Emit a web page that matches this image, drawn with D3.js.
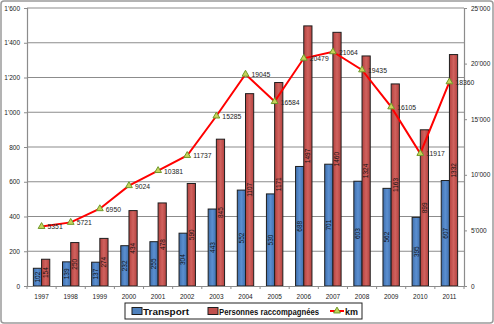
<!DOCTYPE html>
<html><head><meta charset="utf-8">
<script src="https://cdn.jsdelivr.net/npm/d3@7"></script>
<style>body{margin:0;background:#fff}svg{display:block}</style>
</head><body>
<script>
const years = ["1997","1998","1999","2000","2001","2002","2003","2004","2005","2006","2007","2008","2009","2010","2011"];
const transport = [102,139,137,232,255,304,443,552,530,688,701,603,562,395,607];
const personnes = [154,250,274,434,478,590,845,1107,1171,1497,1460,1324,1163,899,1332];
const km = [5351,5721,6950,9024,10381,11737,15285,19045,16584,20479,21064,19435,16105,11917,18360];
const leftTicks = [0,200,400,600,800,1000,1200,1400,1600];
const rightTicks = [0,5000,10000,15000,20000,25000];
const seriesNames = ["Transport","Personnes raccompagnées","km"];

const W=494,H=324;
const m={l:27,r:30,t:8,b:38};
const svg=d3.select("body").append("svg").attr("width",W).attr("height",H);
const defs=svg.append("defs");
function grad(id,c1,c2){const g=defs.append("linearGradient").attr("id",id).attr("x1",0).attr("x2",1).attr("y1",0).attr("y2",0);
 g.append("stop").attr("offset","0%").attr("stop-color",c1);g.append("stop").attr("offset","50%").attr("stop-color",c2);g.append("stop").attr("offset","100%").attr("stop-color",c1);}
grad("gb","#3f6fae","#5b8fd0");grad("gr","#b4423f","#d0625e");

svg.append("rect").attr("x",1).attr("y",1).attr("width",W-2).attr("height",H-2).attr("rx",3)
 .attr("fill","#fff").attr("stroke","#9a9a9a").attr("stroke-width",1.5);

const x0=m.l,x1=W-m.r,y0=H-m.b,y1=m.t;
const x=d3.scaleBand().domain(years).range([x0,x1]);
const xi=d3.scaleBand().domain(["t","p"]).range([x.bandwidth()/2-8.2,x.bandwidth()/2+8.2]);
const yL=d3.scaleLinear().domain([0,1600]).range([y0,y1]);
const yR=d3.scaleLinear().domain([0,25000]).range([y0,y1]);
const fmt=v=>d3.format(",")(v).replace(/,/g,"'");

// gridlines
svg.append("g").selectAll("line").data(leftTicks.slice(1)).join("line")
 .attr("x1",x0).attr("x2",x1).attr("y1",d=>yL(d)).attr("y2",d=>yL(d))
 .attr("stroke","#8c8c8c").attr("stroke-width",1.2);

// left axis
const gl=svg.append("g").attr("transform",`translate(${x0},0)`)
 .call(d3.axisLeft(yL).tickValues(leftTicks).tickSize(3).tickPadding(4).tickFormat(fmt));
gl.select(".domain").attr("stroke","#8c8c8c").attr("stroke-width",1.2);
gl.selectAll(".tick line").attr("stroke","#8c8c8c");
gl.selectAll("text").attr("font-family","Liberation Sans, Arial").attr("font-size",6.5).attr("fill","#222");

// right axis
const gr=svg.append("g").attr("transform",`translate(${x1},0)`)
 .call(d3.axisRight(yR).tickValues(rightTicks).tickSize(3).tickPadding(4).tickFormat(fmt));
gr.select(".domain").attr("stroke","#8c8c8c").attr("stroke-width",1.2);
gr.selectAll(".tick line").attr("stroke","#8c8c8c");
gr.selectAll("text").attr("font-family","Liberation Sans, Arial").attr("font-size",6.5).attr("fill","#222");

// bars
const rows=years.map((y,i)=>({y,t:transport[i],p:personnes[i],k:km[i]}));
const bars=[];
rows.forEach(r=>{bars.push({y:r.y,s:"t",v:r.t});bars.push({y:r.y,s:"p",v:r.p});});
const bg=svg.append("g");
bg.selectAll("rect").data(bars).join("rect")
 .attr("x",d=>x(d.y)+xi(d.s)).attr("width",xi.bandwidth())
 .attr("y",d=>yL(d.v)).attr("height",d=>yL(0)-yL(d.v))
 .attr("fill",d=>d.s==="t"?"url(#gb)":"url(#gr)")
 .attr("stroke","#1e1e1e").attr("stroke-width",1);
bg.selectAll("text").data(bars).join("text")
 .attr("transform",d=>`translate(${x(d.y)+xi(d.s)+xi.bandwidth()/2+2.3},${(yL(d.v)+yL(0))/2}) rotate(-90)`)
 .attr("text-anchor","middle").attr("font-family","Liberation Sans, Arial").attr("font-size",6.5)
 .attr("fill","#111").text(d=>d.v);

// x axis
const gx=svg.append("g").attr("transform",`translate(0,${y0})`)
 .call(d3.axisBottom(x).tickSize(0).tickPadding(8));
gx.select(".domain").attr("stroke","#8c8c8c").attr("stroke-width",1.2);
gx.selectAll("text").attr("font-family","Liberation Sans, Arial").attr("font-size",6.5).attr("fill","#222");
svg.append("g").selectAll("line").data(years.concat(["end"])).join("line")
 .attr("x1",(d,i)=>x0+i*x.step()).attr("x2",(d,i)=>x0+i*x.step())
 .attr("y1",y0).attr("y2",y0+3).attr("stroke","#8c8c8c");

// km line
const cx=d=>x(d.y)+x.bandwidth()/2;
svg.append("path").datum(rows)
 .attr("d",d3.line().x(cx).y(d=>yR(d.k)))
 .attr("fill","none").attr("stroke","#ff0000").attr("stroke-width",2);
const tri=d3.symbol().type(d3.symbolTriangle).size(20);
svg.append("g").selectAll("path").data(rows).join("path")
 .attr("transform",d=>`translate(${cx(d)},${yR(d.k)})`).attr("d",tri)
 .attr("fill","#c6d35a").attr("stroke","#6f9a2a").attr("stroke-width",1);
svg.append("g").selectAll("text").data(rows).join("text")
 .attr("x",d=>cx(d)+6).attr("y",d=>yR(d.k)+3)
 .attr("font-family","Liberation Sans, Arial").attr("font-size",6.8).attr("fill","#222").text(d=>d.k);

// legend
const lg=svg.append("g");
lg.append("rect").attr("x",125).attr("y",303).attr("width",237).attr("height",16)
 .attr("fill","#fff").attr("stroke","#222").attr("stroke-width",1);
const lf={family:"Liberation Sans, Arial",size:9};
lg.append("rect").attr("x",132).attr("y",307.5).attr("width",10).attr("height",7).attr("fill","#4f81bd").attr("stroke","#1e1e1e");
lg.append("text").attr("x",143).attr("y",314.5).attr("textLength",46).text(seriesNames[0]);
lg.append("rect").attr("x",208).attr("y",307.5).attr("width",10).attr("height",7).attr("fill","#c0504d").attr("stroke","#1e1e1e");
lg.append("text").attr("x",219).attr("y",314.5).attr("textLength",100).text(seriesNames[1]);
lg.append("line").attr("x1",330).attr("x2",344).attr("y1",311).attr("y2",311).attr("stroke","#ff0000").attr("stroke-width",2);
lg.append("path").attr("transform","translate(337,311)").attr("d",tri).attr("fill","#c6d35a").attr("stroke","#6f9a2a");
lg.append("text").attr("x",345).attr("y",314.5).attr("textLength",13).text(seriesNames[2]);
lg.selectAll("text").attr("font-family",lf.family).attr("font-size",lf.size).attr("font-weight","bold")
 .attr("lengthAdjust","spacingAndGlyphs").attr("fill","#111");
</script>
</body></html>
